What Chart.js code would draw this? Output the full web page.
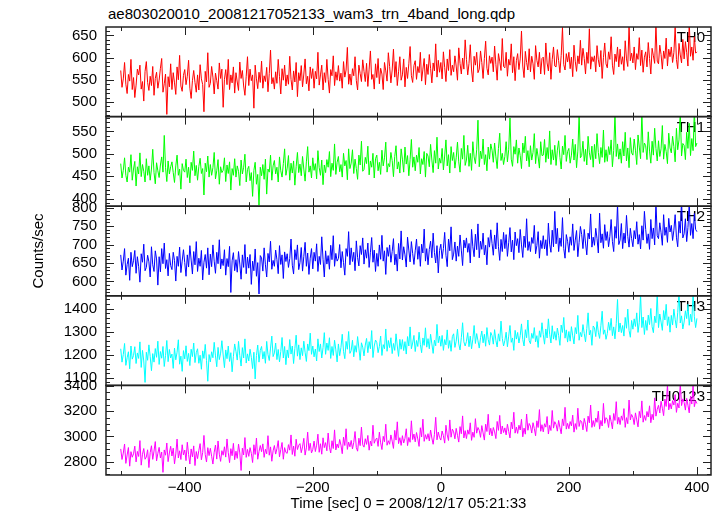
<!DOCTYPE html>
<html><head><meta charset="utf-8">
<script src="https://cdn.jsdelivr.net/npm/chart.js@4"></script>
<style>
html,body{margin:0;padding:0;background:#fff;}
#wrap{position:relative;width:724px;height:516px;overflow:hidden;}
#c{position:absolute;left:0;top:0;z-index:2;}
.txt{position:absolute;font-family:"Liberation Sans",Arial,sans-serif;color:#000;white-space:nowrap;z-index:1;}
</style></head><body>
<div id="wrap">
<div class="txt" style="left:108px;top:5px;font-size:15px;">ae803020010_20081217052133_wam3_trn_4band_long.qdp</div>
<canvas id="c" width="724" height="516"></canvas>
</div>
<script>
// time bins: start and step (seconds)
const timeStart = -500;
const timeStep = 2;

const panelNames = ['TH0', 'TH1', 'TH2', 'TH3', 'TH0123'];

const th0 = [
571,533,552,589,540,519,562,547,596,528,
555,510,538,574,561,583,529,546,502,569,
591,544,526,558,537,580,515,553,567,531,
549,576,598,522,541,563,472,557,534,586,
528,566,543,517,579,550,605,536,524,560,
573,539,558,594,531,508,548,571,544,522,
561,527,584,552,539,478,569,545,611,533,
542,580,556,518,565,548,529,588,553,574,
488,551,573,539,596,528,561,543,579,520,
566,545,526,590,553,571,536,515,558,602,
537,574,548,561,486,583,552,530,567,544,
592,531,559,546,578,523,564,617,541,555,
529,568,542,596,557,518,575,549,583,536,
561,540,603,551,527,570,545,589,512,566,
548,582,534,563,597,541,558,525,579,553,
575,531,569,552,612,538,561,583,527,566,
544,596,551,520,573,559,604,537,568,549,
582,547,565,531,591,556,572,623,540,563,
538,575,559,602,548,527,583,564,546,595,
569,546,587,535,574,615,551,562,529,586,
555,598,541,576,563,528,589,570,547,611,
580,543,572,619,556,591,537,568,602,549,
561,597,534,578,553,586,625,559,544,582,
593,551,580,566,612,547,574,598,539,585,
562,607,576,543,588,570,631,556,594,567,
589,552,613,578,546,597,571,618,560,583,
568,604,581,549,622,587,563,599,574,640,
596,561,587,629,572,545,603,583,612,566,
574,615,589,553,598,637,576,561,604,587,
601,568,626,585,549,609,592,571,643,580,
577,612,558,596,583,631,566,602,548,593,
609,573,597,660,581,555,614,589,572,620,
568,603,586,551,627,594,579,612,563,598,
601,562,633,588,570,611,551,596,624,581,
579,618,593,566,605,668,584,572,609,590,
612,575,601,557,628,592,569,604,586,639,
583,621,598,563,612,587,665,574,602,591,
604,568,627,595,579,616,553,600,633,586,
577,613,596,647,583,562,608,591,624,579,
619,585,602,571,638,597,580,672,593,610,
588,624,573,609,596,645,582,617,567,601,
613,579,634,598,563,621,604,587,675,592,
586,628,607,574,615,598,644,581,619,602,
624,589,611,668,596,575,632,606,588,641,
597,636,612,581,680,603,624,594,647,610,
613];

const th1 = [
478,446,463,491,452,437,470,459,498,441,
466,483,428,471,455,502,449,476,461,437,
489,452,473,441,466,510,458,433,480,462,
447,475,493,459,541,469,438,484,455,471,
482,458,436,473,497,452,466,421,478,463,
459,488,447,470,435,481,463,506,451,474,
441,472,490,456,467,408,479,460,495,448,
476,452,469,503,444,462,487,432,471,458,
463,491,438,475,456,482,419,467,452,489,
448,473,461,429,486,455,470,499,437,465,
472,440,458,405,463,481,432,454,385,470,
451,476,443,488,410,466,459,497,441,473,
485,455,470,437,493,462,448,478,511,452,
468,496,441,479,457,484,430,471,503,458,
477,451,494,466,439,482,516,459,473,446,
491,463,478,444,507,469,452,486,431,475,
458,487,470,505,449,479,463,522,454,481,
494,460,476,448,501,473,485,442,511,467,
479,509,456,488,467,443,497,475,528,461,
465,492,478,517,453,484,470,501,446,489,
497,462,481,454,508,473,491,526,459,478,
471,503,485,449,494,518,466,482,457,511,
488,459,515,477,496,451,487,532,470,493,
462,497,481,514,455,489,476,505,448,501,
495,471,521,486,458,507,479,537,466,490,
479,512,464,495,531,473,498,457,516,485,
503,468,491,526,482,459,512,488,541,474,
486,519,472,501,463,527,493,478,509,575,
471,506,489,533,476,498,462,515,488,522,
508,481,524,493,467,512,546,485,501,476,
494,527,482,509,580,488,472,516,499,531,
479,513,496,467,524,502,539,484,507,471,
518,486,503,545,478,512,493,468,527,496,
497,532,481,514,489,551,476,509,486,519,
474,508,529,492,466,517,498,541,483,505,
512,479,497,533,486,521,469,506,588,491,
496,528,483,510,475,539,502,487,517,470,
521,489,545,503,478,514,492,553,481,509,
483,516,498,531,471,507,590,494,522,488,
511,479,527,495,548,484,513,469,536,502,
497,533,508,476,542,515,489,592,503,524,
518,487,549,506,479,528,497,557,512,484,
529,494,511,563,488,521,505,478,546,513,
502,539,516,482,557,509,531,595,495,523,
519,487,548,512,568,496,534,507,598,516,
524];

const th2 = [
672,631,655,689,617,646,663,603,679,640,
656,684,622,667,641,598,675,652,701,629,
638,671,653,612,694,645,627,683,661,590,
667,626,689,648,704,635,659,615,676,643,
632,679,657,601,668,641,693,624,655,686,
651,614,672,639,697,658,620,681,645,708,
627,663,641,684,604,652,673,636,691,618,
674,640,699,655,622,679,648,713,634,661,
643,686,617,662,640,695,570,656,678,629,
659,625,681,647,606,672,638,700,621,666,
636,673,592,655,629,688,614,651,566,670,
664,628,691,645,612,676,653,709,633,657,
641,685,659,621,697,646,672,608,680,654,
675,638,662,715,644,620,686,659,699,632,
651,692,628,668,706,641,677,619,663,689,
634,679,655,702,627,668,646,721,660,612,
683,647,670,633,698,659,724,641,676,655,
662,700,637,681,651,617,689,668,735,645,
691,654,679,629,710,665,642,697,673,718,
647,686,663,704,638,679,719,652,685,627,
676,641,699,660,725,655,683,619,692,668,
699,652,681,716,645,674,628,703,661,737,
658,694,672,639,720,685,653,708,676,646,
683,715,660,695,641,701,677,742,655,689,
645,687,709,664,731,678,650,697,623,684,
701,662,689,733,671,640,715,683,748,659,
674,707,655,696,668,726,685,643,712,691,
718,679,703,650,741,694,667,728,686,756,
664,709,687,731,672,698,645,719,693,740,
703,671,726,688,759,694,657,714,681,733,
689,727,668,705,746,680,712,659,734,697,
716,678,741,699,665,723,692,770,684,708,
681,719,703,752,675,697,735,663,711,689,
724,688,713,670,758,701,679,739,694,790,
702,744,681,718,695,773,689,663,727,709,
679,721,698,756,684,712,738,667,706,749,
727,689,741,704,672,731,715,783,693,720,
698,744,716,677,785,705,729,690,754,711,
735,694,722,768,708,681,749,717,810,700,
712,757,689,731,704,779,722,693,744,716,
694,738,715,762,701,727,688,751,712,790,
741,703,729,687,768,716,745,699,815,724,
716,759,732,698,781,725,747,706,771,734,
752,711,739,781,720,694,763,731,820,718,
729,770,708,746,812,725,757,716,784,741,
735];

const th3 = [
1226,1168,1201,1249,1154,1187,1213,1139,1238,1181,
1197,1235,1162,1208,1184,1256,1145,1219,1173,1080,
1211,1176,1243,1193,1131,1205,1168,1227,1189,1259,
1158,1214,1185,1236,1149,1197,1262,1170,1223,1186,
1203,1141,1229,1178,1211,1265,1159,1194,1128,1218,
1182,1239,1171,1206,1153,1224,1192,1251,1166,1209,
1226,1163,1198,1137,1217,1184,1245,1175,1085,1201,
1169,1213,1187,1254,1195,1148,1232,1179,1207,1261,
1199,1144,1221,1183,1238,1171,1209,1126,1193,1247,
1215,1177,1258,1196,1151,1231,1186,1269,1164,1204,
1173,1224,1189,1140,1211,1095,1197,1242,1168,1219,
1236,1182,1214,1163,1258,1201,1175,1229,1281,1192,
1208,1251,1179,1223,1169,1214,1275,1186,1236,1157,
1221,1187,1266,1203,1238,1162,1227,1285,1194,1243,
1179,1230,1196,1259,1211,1171,1247,1218,1294,1202,
1238,1191,1225,1173,1269,1214,1247,1186,1231,1296,
1202,1251,1219,1274,1184,1236,1197,1263,1221,1169,
1247,1196,1232,1289,1215,1183,1258,1224,1301,1206,
1218,1263,1191,1240,1211,1279,1229,1176,1252,1233,
1195,1242,1271,1209,1257,1226,1305,1188,1238,1264,
1253,1209,1236,1281,1197,1244,1226,1312,1215,1262,
1231,1274,1205,1249,1219,1291,1238,1193,1267,1224,
1266,1218,1257,1203,1279,1238,1321,1226,1251,1284,
1214,1262,1236,1298,1245,1209,1273,1241,1317,1233,
1270,1226,1289,1247,1206,1263,1239,1332,1252,1281,
1237,1284,1219,1266,1243,1308,1228,1262,1215,1279,
1291,1232,1259,1311,1247,1221,1274,1339,1256,1238,
1258,1296,1235,1281,1226,1268,1327,1249,1292,1261,
1229,1274,1303,1252,1289,1237,1318,1266,1242,1297,
1283,1246,1309,1262,1234,1291,1259,1346,1271,1238,
1262,1298,1235,1281,1327,1254,1273,1219,1306,1268,
1297,1251,1283,1334,1266,1238,1309,1274,1351,1261,
1248,1293,1271,1318,1256,1283,1232,1304,1276,1339,
1287,1246,1312,1273,1356,1289,1251,1326,1268,1301,
1263,1316,1284,1241,1329,1297,1362,1272,1308,1255,
1301,1259,1322,1282,1247,1318,1291,1371,1263,1297,
1278,1331,1293,1256,1314,1382,1286,1306,1241,1325,
1317,1279,1344,1298,1271,1326,1389,1289,1308,1267,
1292,1341,1306,1358,1283,1321,1269,1336,1440,1299,
1338,1296,1327,1281,1362,1315,1398,1306,1276,1349,
1311,1356,1323,1382,1297,1341,1460,1318,1364,1288,
1349,1306,1372,1331,1401,1322,1296,1368,1339,1465,
1318,1377,1342,1306,1392,1351,1419,1327,1365,1298,
1371,1329,1398,1354,1316,1383,1470,1338,1369,1312,
1342,1391,1357,1419,1328,1376,1343,1470,1365,1318,
1358];

const th0123 = [
2901,2817,2868,2940,2786,2853,2912,2764,2879,2835,
2862,2923,2798,2881,2841,2967,2772,2859,2904,2819,
2837,2894,2753,2871,2926,2818,2884,2959,2806,2866,
2913,2829,2876,2715,2893,2851,2948,2800,2869,2922,
2845,2907,2782,2861,2979,2829,2886,2817,2934,2853,
2892,2808,2954,2857,2781,2901,2838,2925,2769,2880,
2824,2889,2943,2815,2872,3008,2856,2797,2911,2848,
2906,2843,2781,2875,2932,2820,2964,2859,2802,2887,
2851,2918,2836,2980,2871,2792,2903,2847,2945,2815,
2883,2826,2939,2869,2730,2907,2853,2991,2834,2897,
2842,2911,2866,2793,2934,2857,2987,2819,2880,2928,
2879,2941,2834,2898,2862,3006,2851,2917,2803,2886,
2928,2860,2903,2967,2838,2895,2952,2819,2911,2873,
2866,2935,2891,3012,2857,2924,2843,2978,2896,2930,
2943,2871,2917,2985,2852,2909,3034,2888,2946,2869,
2897,2963,2880,2931,3018,2874,2942,2859,2989,2911,
2951,2886,3027,2914,2869,2966,2904,3052,2893,2940,
2909,2976,2931,2863,2994,2928,3061,2897,2955,2918,
2968,2901,2953,3039,2912,2883,2986,2927,3074,2934,
2915,2982,2937,3008,2891,2963,2924,3089,2946,2975,
2987,2921,3034,2949,2896,3001,2958,3097,2930,2966,
2938,3012,2963,2905,3048,2971,3116,2943,2990,2929,
3006,2948,2985,3061,2927,2992,2954,3124,2975,3019,
2957,3031,2980,2921,3069,2996,3137,2961,3014,2978,
3022,2964,3051,2987,2938,3016,3152,2973,3035,2992,
2971,3043,3006,2947,3089,3012,2968,3131,2994,3058,
3037,2981,3064,3009,2955,3078,3021,3163,2988,3046,
2983,3052,3017,3108,2969,3034,2993,3141,3026,3071,
3049,2993,3086,3028,2971,3097,3039,3176,3012,3065,
3004,3071,3036,2983,3119,3048,3167,3019,3083,3031,
3068,3012,3097,3041,2988,3113,3059,3192,3026,3074,
3024,3089,3051,3136,2997,3066,3018,3178,3049,3103,
3082,3027,3109,3063,3005,3124,3071,3213,3041,3093,
3036,3101,3074,3158,3019,3088,3047,3206,3066,3117,
3095,3042,3127,3071,3021,3139,3085,3231,3058,3104,
3061,3118,3083,3169,3034,3102,3056,3224,3079,3127,
3118,3052,3143,3097,3039,3161,3108,3249,3072,3126,
3079,3146,3112,3201,3058,3127,3083,3262,3104,3149,
3136,3071,3168,3119,3060,3182,3127,3276,3098,3152,
3094,3163,3128,3221,3072,3149,3101,3289,3131,3174,
3152,3094,3187,3131,3076,3199,3148,3282,3113,3166,
3127,3198,3154,3243,3109,3176,3132,3306,3161,3215,
3247,3186,3279,3224,3165,3296,3238,3410,3211,3262,
3218,3284,3249,3332,3191,3263,3226,3420,3245,3298,
3271,3209,3302,3248,3187,3319,3257,3405,3236,3283,
3261];

const seriesValues = [th0, th1, th2, th3, th0123];
const seriesColors = ['#ff0000', '#00ff00', '#0000ff', '#00ffff', '#ff00ff'];
const yMins = [467, 383, 561, 1067, 2694];
const yMaxs = [669, 583, 804, 1456, 3405];
const yTickLabels = [
  [500, 550, 600, 650],
  [400, 450, 500, 550],
  [600, 650, 700, 750, 800],
  [1100, 1200, 1300, 1400],
  [2800, 3000, 3200, 3400]
];
const yMajor = [50, 50, 50, 100, 200];
const yMinor = [10, 10, 10, 20, 50];
const xTickLabels = [-400, -200, 0, 200, 400];
const xMin = -523, xMax = 422, xMajor = 200, xMinor = 100;

const times = th0.map((_, i) => timeStart + i * timeStep);

const FONT = '"Liberation Sans", Arial, sans-serif';
const axisIds = panelNames.map((_, i) => 'y' + i);

const datasets = seriesValues.map((vals, i) => ({
  label: panelNames[i],
  data: vals.map((v, j) => ({x: times[j], y: v})),
  yAxisID: axisIds[i],
  borderColor: seriesColors[i],
  borderWidth: 1,
  pointRadius: 0,
  tension: 0,
  fill: false
}));

const scales = {
  x: {
    type: 'linear', position: 'bottom', min: xMin, max: xMax,
    grid: {display: false, drawTicks: false}, border: {display: false},
    afterBuildTicks: s => { s.ticks = xTickLabels.map(v => ({value: v})); },
    ticks: {autoSkip: false, maxRotation: 0, color: '#000', padding: 4,
      font: {family: FONT, size: 15},
      callback: v => String(v).replace('-', '\u2212')},
    title: {display: true, text: 'Time [sec] 0 = 2008/12/17 05:21:33', color: '#000',
      font: {family: FONT, size: 15}, padding: {top: 0, bottom: 3}},
    afterFit: s => { s.height = 41; }
  }
};
// stacked axes: last defined is placed on top, so add in reverse order
for (let i = panelNames.length - 1; i >= 0; i--) {
  scales[axisIds[i]] = {
    type: 'linear', position: 'left', stack: 'panels', stackWeight: 1,
    min: yMins[i], max: yMaxs[i],
    grid: {display: false, drawTicks: false}, border: {display: false},
    afterBuildTicks: s => { s.ticks = yTickLabels[i].map(v => ({value: v})); },
    ticks: {autoSkip: false, color: '#000', padding: 9,
      font: {family: FONT, size: 15},
      callback: v => String(v)},
    title: {display: i === 2, text: 'Counts/sec', color: '#000',
      font: {family: FONT, size: 15}, padding: {top: 30, bottom: 0}},
    afterFit: s => { s.width = 106; }
  };
}

const panelPlugin = {
  id: 'panels',
  beforeDatasetsDraw(chart) {
    const ctx = chart.ctx, ca = chart.chartArea;
    ctx.save();
    ctx.fillStyle = '#000';
    ctx.font = '15px ' + FONT;
    ctx.textAlign = 'right';
    ctx.textBaseline = 'middle';
    axisIds.forEach((id, i) => {
      const s = chart.scales[id];
      ctx.fillText(panelNames[i], ca.right - 6, s.top + 11);
    });
    ctx.restore();
  },
  beforeDatasetDraw(chart, args) {
    const ds = chart.data.datasets[args.index];
    const s = chart.scales[ds.yAxisID];
    const ctx = chart.ctx, ca = chart.chartArea;
    ctx.save();
    ctx.beginPath();
    ctx.rect(ca.left, s.top, ca.right - ca.left, s.bottom - s.top);
    ctx.clip();
  },
  afterDatasetDraw(chart) {
    chart.ctx.restore();
  },
  afterDatasetsDraw(chart) {
    const ctx = chart.ctx, ca = chart.chartArea, xs = chart.scales.x;
    ctx.save();
    ctx.strokeStyle = '#222';
    ctx.lineWidth = 1;
    axisIds.forEach((id, i) => {
      const s = chart.scales[id];
      const first = Math.ceil(yMins[i] / yMinor[i]) * yMinor[i];
      for (let v = first; v <= yMaxs[i]; v += yMinor[i]) {
        const y = Math.round(s.getPixelForValue(v)) + 0.5;
        const len = (v % yMajor[i] === 0) ? 8 : 4;
        ctx.beginPath();
        ctx.moveTo(ca.left, y); ctx.lineTo(ca.left + len, y);
        ctx.moveTo(ca.right, y); ctx.lineTo(ca.right - len, y);
        ctx.stroke();
      }
      const fx = Math.ceil(xMin / xMinor) * xMinor;
      for (let t = fx; t <= xMax; t += xMinor) {
        const x = Math.round(xs.getPixelForValue(t)) + 0.5;
        const len = (t % xMajor === 0) ? 8 : 4;
        ctx.beginPath();
        ctx.moveTo(x, s.top); ctx.lineTo(x, s.top + len);
        ctx.moveTo(x, s.bottom); ctx.lineTo(x, s.bottom - len);
        ctx.stroke();
      }
    });
    ctx.lineWidth = 1.5;
    axisIds.forEach(id => {
      const s = chart.scales[id];
      ctx.strokeRect(ca.left, s.top, ca.right - ca.left, s.bottom - s.top);
    });
    ctx.restore();
  }
};

new Chart(document.getElementById('c'), {
  type: 'line',
  data: {datasets},
  options: {
    responsive: false,
    animation: false,
    devicePixelRatio: 1,
    layout: {padding: {top: 27, right: 13, left: 0, bottom: 0}},
    plugins: {legend: {display: false}, tooltip: {enabled: false}, title: {display: false}},
    scales
  },
  plugins: [panelPlugin]
});
</script>
</body></html>
